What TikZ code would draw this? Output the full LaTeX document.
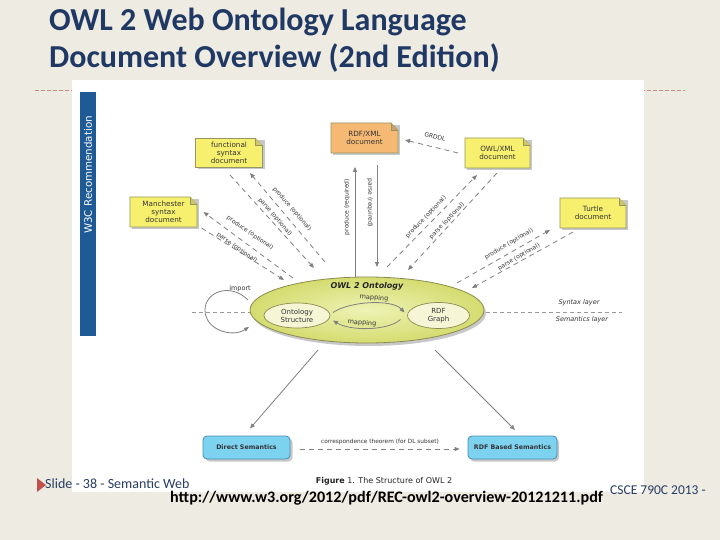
\documentclass[tikz,border=0pt]{standalone}
\usepackage{fontspec}
\setmainfont{Carlito}
\newfontfamily\figfont{DejaVu Sans}
\usetikzlibrary{arrows.meta,shapes.geometric}
\definecolor{bgc}{RGB}{238,235,226}
\definecolor{titlec}{RGB}{31,56,100}
\definecolor{barc}{RGB}{30,90,150}
\definecolor{notey}{RGB}{247,240,110}
\definecolor{noteo}{RGB}{246,185,115}
\definecolor{notedr}{RGB}{150,150,100}
\definecolor{arrc}{RGB}{128,128,128}
\definecolor{ellin}{RGB}{238,242,180}
\definecolor{ellout}{RGB}{212,220,112}
\definecolor{elldr}{RGB}{140,140,80}
\definecolor{innerc}{RGB}{246,246,215}
\definecolor{cyanf}{RGB}{125,210,240}
\definecolor{cyand}{RGB}{70,140,180}
\definecolor{footc}{RGB}{40,60,100}
\definecolor{redtri}{RGB}{192,80,77}
\definecolor{dashc}{RGB}{200,140,130}
\definecolor{shadowc}{RGB}{200,200,200}
\newcommand\notedoc[7]{%
  \fill[shadowc] (#2-#4/2+2,#3-#5/2+2) rectangle (#2+#4/2+2,#3+#5/2+2);
  \draw[notedr, fill=#6, line width=0.6pt] (#2-#4/2,#3-#5/2) -- (#2+#4/2-7,#3-#5/2) -- (#2+#4/2,#3-#5/2+7) -- (#2+#4/2,#3+#5/2) -- (#2-#4/2,#3+#5/2) -- cycle;
  \draw[notedr, fill=#6!80!black!90, line width=0.6pt] (#2+#4/2-7,#3-#5/2) -- (#2+#4/2-7,#3-#5/2+7) -- (#2+#4/2,#3-#5/2+7);
  \node[doctext, minimum width=#4, minimum height=#5] (#1) at (#2,#3) {#7};
}
\tikzset{
  doctext/.style={font=\figfont\fontsize{7.2}{8.2}\selectfont, align=center, inner sep=0pt, text=black!80},
  lbl/.style={font=\figfont\fontsize{6}{7}\selectfont, inner sep=0pt, text=black!80},
  arr/.style={draw=arrc, line width=0.8pt, -{Triangle[length=5pt,width=4pt]}},
  darr/.style={arr, dash pattern=on 5pt off 4pt},
  semb/.style={draw=cyand, fill=cyanf, rounded corners=4pt, line width=0.8pt, minimum width=87pt, minimum height=23pt, font=\figfont\bfseries\fontsize{6.3}{7}\selectfont, text=black!80},
  inell/.style={ellipse, draw=elldr, fill=innerc, line width=0.7pt, inner sep=0pt, align=center, font=\figfont\fontsize{7}{8}\selectfont, text=black!80},
}
\begin{document}
\begin{tikzpicture}[x=1pt,y=-1pt]
\useasboundingbox (0,0) rectangle (720,540);
\fill[bgc] (0,0) rectangle (720,540);
% title
\node[anchor=base west, inner sep=0, text=titlec, font=\bfseries\fontsize{32}{36}\selectfont] (t1) at (49,31) {OWL 2 Web Ontology Language};
\node[anchor=base west, inner sep=0, text=titlec, font=\bfseries\fontsize{32}{36}\selectfont] (t2) at (49,68) {Document Overview (2nd Edition)};
\draw[dashc, dash pattern=on 4pt off 2pt, line width=0.7pt] (35,90) -- (685,90);
% panel
\fill[white] (72,80) rectangle (644,492);
\fill[barc] (80,92) rectangle (96,336);
\node[rotate=90, text=white, font=\figfont\fontsize{10.3}{11}\selectfont, inner sep=0] (w3c) at (88,175) {W3C Recommendation};
% layer line
\draw[arrc!80, dash pattern=on 4pt off 3pt, line width=0.5pt] (192,312) -- (622,312);
\node[lbl, font=\figfont\itshape\fontsize{6.5}{7}\selectfont] (syn) at (579,303) {Syntax layer};
\node[lbl, font=\figfont\itshape\fontsize{6.5}{7}\selectfont] (sem) at (582,320) {Semantics layer};
% ontology ellipse
\fill[shadowc] (369,313) ellipse [x radius=117, y radius=33];
\node[ellipse, draw=elldr, line width=0.8pt, inner color=ellin, outer color=ellout, minimum width=234pt, minimum height=66pt] (onto) at (367,310) {};
\node[font=\figfont\bfseries\itshape\fontsize{8}{9}\selectfont, text=black!85, inner sep=0] (ontol) at (367,286) {OWL 2 Ontology};
\node[inell, minimum width=66pt, minimum height=25pt] (os) at (297,315.5) {Ontology\\Structure};
\node[inell, minimum width=62pt, minimum height=26pt] (rdf) at (438.5,315.5) {RDF\\Graph};
\draw[arr] ([shift={(36,-3)}]os.center) .. controls (350,301) and (392,299) .. ([shift={(-34,-3)}]rdf.center);
\node[lbl, font=\figfont\fontsize{6.5}{7}\selectfont, rotate=-4] (m1) at (374,298) {mapping};
\draw[arr] ([shift={(-38,4)}]rdf.center) .. controls (388,331) and (350,331) .. ([shift={(36,5)}]os.center);
\node[lbl, font=\figfont\fontsize{6.5}{7}\selectfont, rotate=-4] (m2) at (362,323) {mapping};
% import loop
\draw[arr] ([shift={(-119,-10)}]onto.center) .. controls (230,282) and (205,292) .. (205,310) .. controls (205,330) and (232,338) .. ([shift={(-118,17)}]onto.center);
\node[lbl, font=\figfont\fontsize{6.5}{7}\selectfont] (imp) at (240,289) {import};
% documents
\notedoc{func}{229}{153}{67}{29}{notey}{functional\\syntax\\document}
\notedoc{man}{163.5}{212}{67}{30}{notey}{Manchester\\syntax\\document}
\notedoc{rdfxml}{364.5}{138}{67}{30}{noteo}{RDF/XML\\document}
\notedoc{owlxml}{497.5}{153}{65}{30}{notey}{OWL/XML\\document}
\notedoc{turtle}{593}{213}{66}{30}{notey}{Turtle\\document}
% functional
\draw[darr] ([shift={(-42,-48)}]onto.center) -- ([shift={(21,20)}]func.center);
\draw[darr] ([shift={(1,22)}]func.center) -- ([shift={(-53,-42)}]onto.center);
\node[lbl, rotate=-49] (fp) at (292,209) {produce (optional)};
\node[lbl, rotate=-49] (fpa) at (275,217) {parse (optional)};
% manchester
\draw[darr] ([shift={(-74,-32)}]onto.center) -- ([shift={(40,0)}]man.center);
\draw[darr] ([shift={(38,16)}]man.center) -- ([shift={(-83,-30)}]onto.center);
\node[lbl, rotate=-35] (mp) at (250,233) {produce (optional)};
\node[lbl, rotate=-35] (mpa) at (237,248) {parse (optional)};
% rdf/xml
\draw[arr] ([shift={(-12,-33)}]onto.center) -- ([shift={(-9.5,29)}]rdfxml.center);
\draw[arr] ([shift={(12.5,27)}]rdfxml.center) -- ([shift={(10,-43)}]onto.center);
\node[lbl, rotate=90] (rp) at (347,207) {produce (required)};
\node[lbl, rotate=-90] (rpa) at (370,203) {parse (required)};
% grddl
\draw[darr] ([shift={(-39.5,0)}]owlxml.center) -- ([shift={(40.5,2)}]rdfxml.center);
\node[lbl, rotate=-14] (gr) at (435,137) {GRDDL};
% owl/xml
\draw[darr] ([shift={(20,-43)}]onto.center) -- ([shift={(-20.5,22)}]owlxml.center);
\draw[darr] ([shift={(-0.5,20)}]owlxml.center) -- ([shift={(41,-40)}]onto.center);
\node[lbl, rotate=46] (op) at (426,217) {produce (optional)};
\node[lbl, rotate=46] (opa) at (447,221) {parse (optional)};
% turtle
\draw[darr] ([shift={(90,-27)}]onto.center) -- ([shift={(-43,17)}]turtle.center);
\draw[darr] ([shift={(-20,19)}]turtle.center) -- ([shift={(105,-22)}]onto.center);
\node[lbl, rotate=31] (tp) at (509,244) {produce (optional)};
\node[lbl, rotate=31] (tpa) at (519,257) {parse (optional)};
% semantics
\fill[shadowc, rounded corners=4pt] (205.5,438.5) rectangle (292.5,461.5);
\fill[shadowc, rounded corners=4pt] (470,438.5) rectangle (559,461.5);
\node[semb] (direct) at (246.5,447.5) {Direct Semantics};
\node[semb, minimum width=89pt] (rdfb) at (512.5,447.5) {RDF Based Semantics};
\draw[arr] ([shift={(-49,40)}]onto.center) -- ([shift={(3.5,-19)}]direct.center);
\draw[arr] ([shift={(68,40)}]onto.center) -- ([shift={(2.5,-17.5)}]rdfb.center);
\draw[darr] ([shift={(10,1.5)}]direct.east) -- ([shift={(-8,1.5)}]rdfb.west);
\node[lbl, font=\figfont\fontsize{5.8}{7}\selectfont] (corr) at (380,442) {correspondence theorem (for DL subset)};
\node[font=\figfont\fontsize{8}{9}\selectfont, inner sep=0, text=black!85] (cap) at (384,481) {\textbf{Figure} 1. The Structure of OWL 2};
% footer
\fill[redtri] (37,478) -- (46,485) -- (37,492) -- cycle;
\node[anchor=base west, inner sep=0, text=footc, font=\fontsize{14}{15}\selectfont] (f1) at (45,488) {Slide - 38 - Semantic Web};
\node[anchor=base west, inner sep=0, text=black, font=\bfseries\fontsize{16.1}{17}\selectfont] (url) at (170,502) {http://www.w3.org/2012/pdf/REC-owl2-overview-20121211.pdf};
\node[anchor=base west, inner sep=0, text=footc, font=\fontsize{13.5}{14}\selectfont] (f2) at (610,494) {CSCE 790C 2013 -};
\end{tikzpicture}
\end{document}
